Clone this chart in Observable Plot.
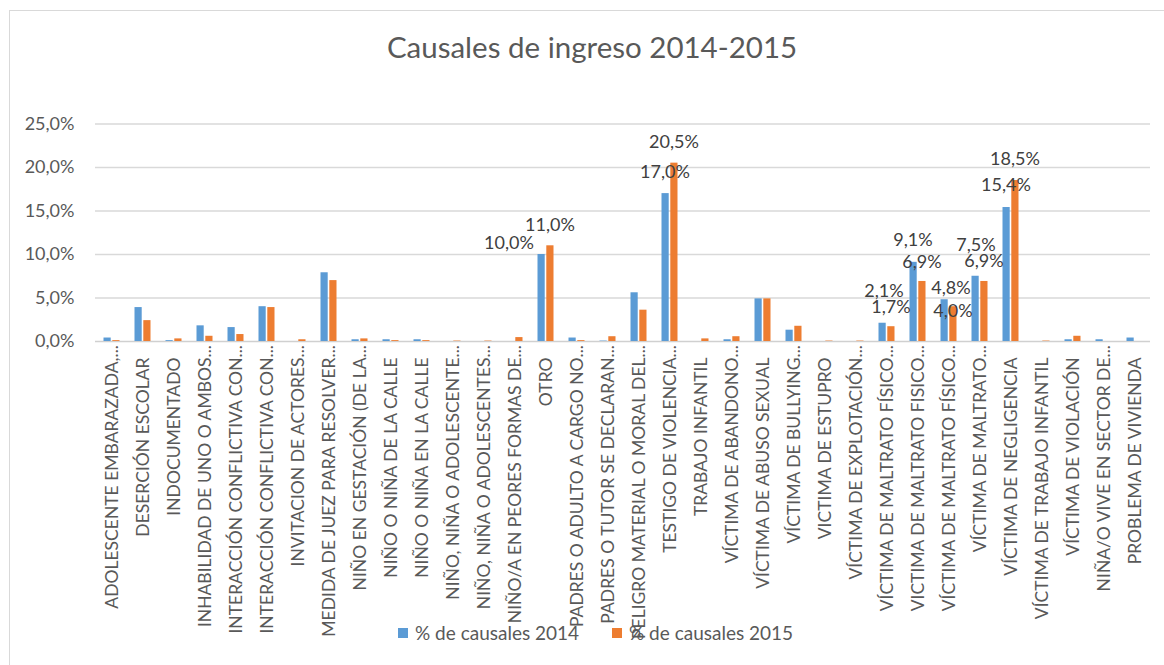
<!DOCTYPE html>
<html>
<head>
<meta charset="utf-8">
<script src="https://cdn.jsdelivr.net/npm/d3@7"></script>
<script src="https://cdn.jsdelivr.net/npm/@observablehq/plot@0.6"></script>
<style>
  html, body { margin: 0; padding: 0; background: #fff; }
  #wrap { position: relative; width: 1164px; height: 665px; overflow: hidden; background: #fff; font-family: Lato, "Open Sans", sans-serif; }
  #frame { position: absolute; left: 9px; top: 10px; width: 1300px; height: 800px; border-left: 1.5px solid #d9d9d9; border-top: 1.5px solid #d9d9d9; }
  #title { position: absolute; left: 10px; top: 27px; width: 1164px; text-align: center; font-size: 29.5px; color: #595959; line-height: 40px; }
  #chart { position: absolute; left: 0; top: 80px; }
  .leg { position: absolute; top: 621px; font-size: 19px; color: #595959; line-height: 24px; white-space: nowrap; }
  .sw { position: absolute; top: 628px; width: 10px; height: 10px; }
</style>
</head>
<body>
<div id="wrap">
  <div id="frame"></div>
  <div id="title">Causales de ingreso 2014-2015</div>
  <div id="chart"></div>
  <div class="sw" style="left:398px;background:#5B9BD5"></div>
  <div class="leg" style="left:415px">% de causales 2014</div>
  <div class="sw" style="left:612px;background:#ED7D31"></div>
  <div class="leg" style="left:629px">% de causales 2015</div>
</div>
<script>
const categories = [
  "ADOLESCENTE EMBARAZADA,...",
  "DESERCIÓN ESCOLAR",
  "INDOCUMENTADO",
  "INHABILIDAD DE UNO O AMBOS...",
  "INTERACCIÓN CONFLICTIVA CON...",
  "INTERACCIÓN CONFLICTIVA CON...",
  "INVITACION DE ACTORES...",
  "MEDIDA DE JUEZ PARA RESOLVER...",
  "NIÑO EN GESTACIÓN (DE LA...",
  "NIÑO O NIÑA DE LA CALLE",
  "NIÑO O NIÑA EN LA CALLE",
  "NIÑO, NIÑA O ADOLESCENTE...",
  "NIÑO, NIÑA O ADOLESCENTES...",
  "NIÑO/A EN PEORES FORMAS DE...",
  "OTRO",
  "PADRES O ADULTO A CARGO NO...",
  "PADRES O TUTOR SE DECLARAN...",
  "PELIGRO MATERIAL O MORAL DEL...",
  "TESTIGO DE VIOLENCIA...",
  "TRABAJO INFANTIL",
  "VÍCTIMA DE ABANDONO...",
  "VÍCTIMA DE ABUSO SEXUAL",
  "VÍCTIMA DE BULLYING...",
  "VICTIMA DE ESTUPRO",
  "VÍCTIMA DE EXPLOTACIÓN...",
  "VÍCTIMA DE MALTRATO FÍSICO...",
  "VICTIMA DE MALTRATO FISICO...",
  "VÍCTIMA DE MALTRATO FÍSICO...",
  "VÍCTIMA DE MALTRATO...",
  "VÍCTIMA DE NEGLIGENCIA",
  "VÍCTIMA DE TRABAJO INFANTIL",
  "VÍCTIMA DE VIOLACIÓN",
  "NIÑA/O VIVE EN SECTOR DE...",
  "PROBLEMA DE VIVIENDA"
];
const values2014 = [0.4, 3.9, 0.1, 1.8, 1.6, 4.0, 0, 7.9, 0.2, 0.2, 0.2, 0, 0, 0, 10.0, 0.4, 0.05, 5.6, 17.0, 0, 0.2, 4.9, 1.3, 0, 0, 2.1, 9.1, 4.8, 7.5, 15.4, 0, 0.2, 0.2, 0.4];
const values2015 = [0.1, 2.4, 0.3, 0.6, 0.8, 3.9, 0.2, 7.0, 0.3, 0.1, 0.1, 0.05, 0.05, 0.45, 11.0, 0.1, 0.55, 3.6, 20.5, 0.3, 0.55, 4.9, 1.75, 0.05, 0.05, 1.7, 6.9, 4.0, 6.9, 18.5, 0.05, 0.6, 0, 0];
const yTicks = [0, 5, 10, 15, 20, 25];
const seriesNames = ["% de causales 2014", "% de causales 2015"];
// categories (by index) whose bars carry a value label
const labelledIndex = [14, 18, 25, 26, 27, 28, 29];

const BLUE = "#5B9BD5", ORANGE = "#ED7D31";
const fmt = d => d.toFixed(1).replace(".", ",") + "%";

const rows = categories.map((c, i) => ({i, cat: c, v2014: values2014[i], v2015: values2015[i]}));

// label placement nudges (layout only)
const nudge = {
  "14-2014": [-37, -11], "14-2015": [4, -21],
  "18-2014": [-5, -21], "18-2015": [4, -21],
  "25-2014": [-3, -32], "25-2015": [4, -19],
  "26-2014": [-5, -22], "26-2015": [4, -19],
  "27-2014": [2, -12], "27-2015": [4, 5],
  "28-2014": [-4, -31], "28-2015": [4, -20],
  "29-2014": [-5, -22], "29-2015": [4, -21]
};

const labelMarks = [];
for (const i of labelledIndex) {
  for (const s of ["2014", "2015"]) {
    const r = rows[i];
    const [dx, dy] = nudge[`${i}-${s}`] || [0, -20];
    labelMarks.push(Plot.text([r], {
      x: "i", y: "v" + s, text: d => fmt(d["v" + s]),
      dx, dy, fill: "#404040", fontSize: 18, textAnchor: "middle", lineAnchor: "middle"
    }));
  }
}

const chart = Plot.plot({
  width: 1164,
  height: 585,
  marginTop: 43.5,
  marginBottom: 324,
  marginLeft: 95,
  marginRight: 14,
  x: {type: "band", domain: d3.range(categories.length), padding: 0, axis: null},
  y: {domain: [0, 25], axis: null},
  style: {fontFamily: "Lato, 'Open Sans', sans-serif", fontSize: "18px", color: "#595959", background: "transparent", overflow: "visible"},
  marks: [
    Plot.ruleY(yTicks.slice(1), {stroke: "#d9d9d9", strokeWidth: 1.3}),
    Plot.ruleY([0], {stroke: "#d0d0d0", strokeWidth: 1.3}),
    Plot.axisY({ticks: yTicks, tickSize: 0, tickPadding: 21, tickFormat: fmt, label: null, fontSize: 18, fill: "#595959"}),
    Plot.barY(rows, {x: "i", y: "v2014", fill: BLUE, insetLeft: 7.5, insetRight: 16.3}),
    Plot.barY(rows, {x: "i", y: "v2015", fill: ORANGE, insetLeft: 16.3, insetRight: 7.5}),
    Plot.text(rows, {
      x: "i", frameAnchor: "bottom", dy: 16, rotate: -90,
      text: d => d.cat.replace(/\.\.\.$/, ""),
      textAnchor: "end", lineAnchor: "middle", fill: "#595959", fontSize: 17.5
    }),
    Plot.text(rows.filter(d => d.cat.endsWith("...")), {
      x: "i", frameAnchor: "bottom", dy: 16, rotate: -90,
      text: () => "...", textAnchor: "start", lineAnchor: "middle", fill: "#595959", fontSize: 17.5
    }),
    ...labelMarks
  ]
});
document.getElementById("chart").appendChild(chart);
</script>
</body>
</html>
